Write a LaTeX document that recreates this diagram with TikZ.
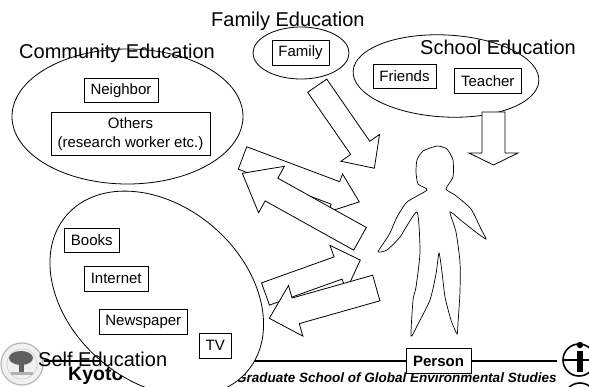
\documentclass[tikz,border=0pt]{standalone}
\usepackage{fontspec}
\setmainfont{Liberation Sans}
\usepackage{tikz}
\usetikzlibrary{shapes.geometric, positioning, calc}

% block arrow: tail, angle, length, half shaft, half head, head length
\newcommand{\blockarrow}[6]{%
  \begin{scope}[shift={(#1)}, rotate=#2]
    \draw[bigarrow] (0,-#4) -- ({#3-#6},-#4) -- ({#3-#6},-#5) -- (#3,0)
      -- ({#3-#6},#5) -- ({#3-#6},#4) -- (0,#4) -- cycle;
  \end{scope}}

\begin{document}
\begin{tikzpicture}[
  x=1pt, y=-1pt,
  group/.style={ellipse, draw, line width=0.8pt, inner sep=0pt},
  title/.style={font=\fontsize{20pt}{24pt}\selectfont, inner sep=0pt, anchor=base west},
  item/.style={rectangle, draw, line width=0.6pt, font=\fontsize{15pt}{19pt}\selectfont,
    inner xsep=6.5pt, inner ysep=0pt, minimum height=24.5pt},
  bigarrow/.style={draw, fill=white, line width=0.8pt}
]
  \useasboundingbox (0,0) rectangle (589,386);

  % footer
  \draw[line width=2pt] (40,361) -- (557,361);
  \node[anchor=base west, inner sep=0pt, font=\fontsize{19.5pt}{22pt}\selectfont\bfseries] (kyoto) at (68,380) {Kyoto University};
  \node[anchor=base west, inner sep=0pt, font=\fontsize{13.5pt}{16pt}\selectfont\bfseries\itshape] (gsges) at (236,382) {Graduate School of Global Environmental Studies};

  % seal on the left
  \fill[gray!12] (22,364) circle (22);
  \draw[gray!60, line width=1pt] (22,364) circle (21);
  \draw[gray!50] (22,364) circle (15);
  \fill[gray!75!black] (21,358) ellipse [x radius=12, y radius=7];
  \fill[gray!75!black] (19,362) rectangle (24,374);
  \fill[gray!60] (11,372) rectangle (33,375);

  % logo on the right
  \draw[line width=1.6pt] (579,360) circle (16);
  \draw[line width=1.2pt] (563,360) -- (595,360);
  \fill (577,351) rectangle (583,372);
  \fill (580,345) circle (3.2);
  \draw[line width=1.6pt] (580,399) circle (16);

  % groups
  \node[group, minimum width=231pt, minimum height=135pt] (community) at (127.5,116.5) {};
  \node[group, minimum width=96pt, minimum height=52pt] (family) at (301,53) {};
  \node[group, rotate=-3, minimum width=186pt, minimum height=82pt] (school) at (446,76) {};
  \node[group, fill=white, rotate=-41, minimum width=238.8pt, minimum height=174.8pt] (self) at (156.75,293.5) {};

  \node[item] (neighbor) at (121,90.5) {Neighbor};
  \node[item, align=center, minimum height=43pt, below=9pt of neighbor, xshift=9.5pt] (others) {Others\\(research worker etc.)};
  \node[item] (familybox) at (300.5,53) {Family};
  \node[item] (friends) at (404.5,76.5) {Friends};
  \node[item, right=18pt of friends, yshift=-4.5pt] (teacher) {Teacher};
  \node[item] (books) at (91.8,240.3) {Books};
  \node[item] (internet) at (116.2,278.7) {Internet};
  \node[item] (newspaper) at (143.3,321.8) {Newspaper};
  \node[item] (tv) at (215.2,345.8) {TV};

  % arrows
  \coordinate (famtail) at (317.2,85.7);
  \coordinate (schooltail) at (493.5,112);
  \coordinate (comin) at (242.5,158);
  \coordinate (comout) at (360,238.8);
  \coordinate (selfin) at (265.5,294);
  \coordinate (selfout) at (376.3,288);
  \blockarrow{famtail}{-55.3}{100.4}{11.6}{23.5}{24.8}
  \blockarrow{schooltail}{-90}{53}{11.5}{24.5}{12}
  \blockarrow{comin}{-20.6}{124.8}{12}{20.2}{25.5}
  \blockarrow{comout}{150.9}{134.7}{13}{26.6}{33.4}
  \blockarrow{selfin}{19.7}{100.7}{11.8}{24}{23.6}
  \blockarrow{selfout}{-164.2}{111.2}{13.3}{26.3}{27.4}

  % the person
  \draw[line width=0.7pt] plot[smooth cycle, tension=0.35] coordinates {
    (437,146) (447,149) (453,160) (453,177) (446,189)
    (455,195) (471,209) (481,229) (486,239) (477,233) (463,222) (450,212)
    (456,232) (460,262) (460,292) (458,323) (457,334)
    (451,320) (445,297) (442,272) (439,253)
    (436,274) (430,300) (417,326) (411,336)
    (413,300) (416,287) (420,252) (417,212)
    (400,237) (387,250) (378,252) (383,244) (390,233) (397,217) (407,202)
    (427,190) (418,184) (416,172) (417,160) (423,151)};
  \node[item, fill=white, line width=0.8pt, inner xsep=7pt, font=\fontsize{15pt}{19pt}\selectfont\bfseries] (person) at (438.5,361) {Person};

  % titles
  \node[title] (communitytitle) at (19,58.3) {Community Education};
  \node[title] (familytitle) at (211,26) {Family Education};
  \node[title] (schooltitle) at (420,54.3) {School Education};
  \node[title] (selftitle) at (38,366.7) {Self Education};
\end{tikzpicture}
\end{document}
